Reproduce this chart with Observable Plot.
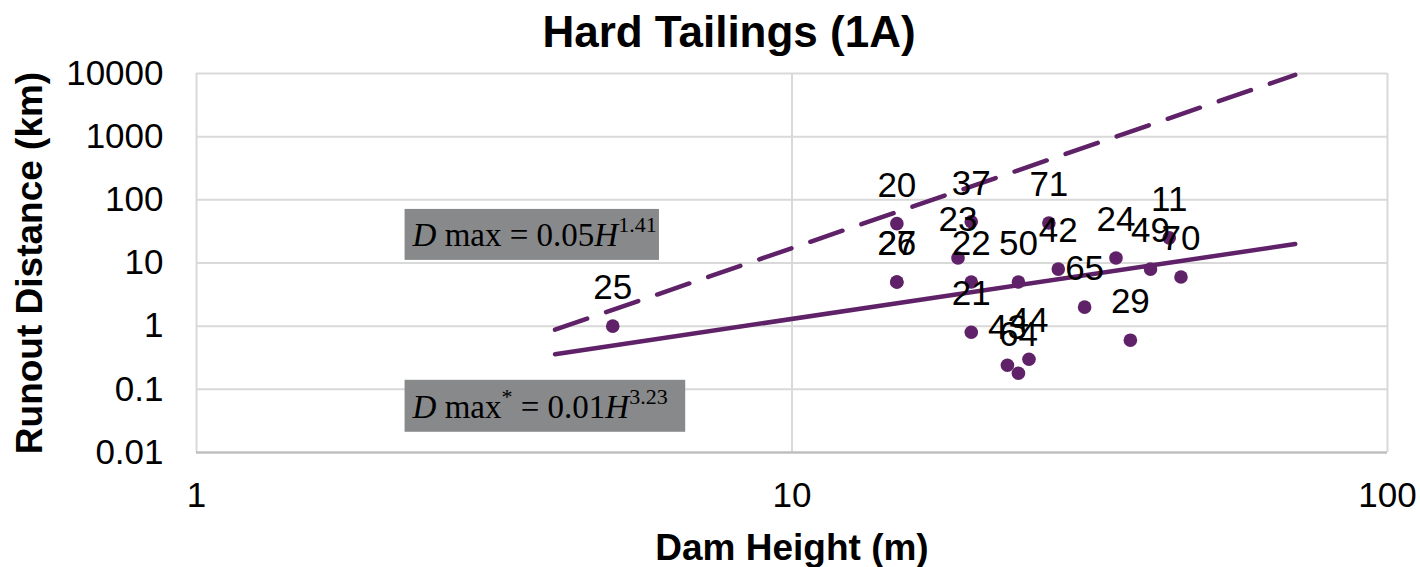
<!DOCTYPE html>
<html>
<head>
<meta charset="utf-8">
<script src="https://cdn.jsdelivr.net/npm/d3@7"></script>
<script src="https://cdn.jsdelivr.net/npm/@observablehq/plot@0.6"></script>
<style>
  html, body { margin: 0; padding: 0; background: #fff; }
  #chart svg { display: block; }
</style>
</head>
<body>
<div id="chart"></div>
<script>
// ---- data ----
const pointLabels = ["25","20","26","27","37","23","22","21","50","42","71","65","24","49","11","70","29","44","43","64"];
const damHeight   = [5, 15, 15, 15, 20, 19, 20, 20, 24, 28, 27, 31, 35, 40, 43, 45, 37, 25, 23, 24];
const runout      = [1, 42, 5, 5, 45, 12, 5, 0.8, 5, 8, 43, 2, 12, 8, 25, 6, 0.6, 0.3, 0.24, 0.18];

// envelope lines (end points)
const lineH      = [4, 70];
const solidD     = [0.36, 20];
const dashedD    = [0.88, 9500];

// annotation boxes (data coordinates)
const boxX1 = [2.24, 2.24];
const boxX2 = [5.99, 6.63];
const boxY1 = [11, 0.0209];
const boxY2 = [70.5, 0.139];

const xTicks = [1, 10, 100];
const yTicks = [0.01, 0.1, 1, 10, 100, 1000, 10000];

const titleText = "Hard Tailings (1A)";
const xTitle = "Dam Height (m)";
const yTitle = "Runout Distance (km)";

// ---- build tables ----
const points = damHeight.map((h, i) => ({h, d: runout[i], label: pointLabels[i]}));
const solid = lineH.map((h, i) => ({h, d: solidD[i]}));
const dashed = lineH.map((h, i) => ({h, d: dashedD[i]}));
const boxes = boxX1.map((x1, i) => ({x1, x2: boxX2[i], y1: boxY1[i], y2: boxY2[i]}));

const purple = "#5f2167";
const sans = "'Liberation Sans', Arial, sans-serif";

const chart = Plot.plot({
  width: 1420,
  height: 567,
  marginLeft: 196,
  marginRight: 33,
  marginTop: 73,
  marginBottom: 115,
  style: {fontFamily: sans, fontSize: "35px", color: "#000", background: "#fff"},
  x: {type: "log", domain: [1, 100]},
  y: {type: "log", domain: [0.01, 10000]},
  marks: [
    Plot.ruleY(yTicks.slice(1), {stroke: "#d9d9d9", strokeWidth: 2}),
    Plot.ruleX(xTicks, {stroke: "#d9d9d9", strokeWidth: 2}),
    Plot.ruleY([0.01], {stroke: "#bfbfbf", strokeWidth: 2.5}),
    Plot.axisX({ticks: xTicks, tickFormat: d => String(d), tickSize: 0, tickPadding: 30, fontSize: 35, label: null}),
    Plot.axisY({ticks: yTicks, tickFormat: d => String(d), tickSize: 0, tickPadding: 33, fontSize: 35, label: null}),
    Plot.rect(boxes, {x1: "x1", x2: "x2", y1: "y1", y2: "y2", fill: "#88898b"}),
    Plot.line(solid, {x: "h", y: "d", stroke: purple, strokeWidth: 4.5, strokeLinecap: "round"}),
    Plot.line(dashed, {x: "h", y: "d", stroke: purple, strokeWidth: 4.5, strokeLinecap: "round", strokeDasharray: "34,20"}),
    Plot.dot(points, {x: "h", y: "d", r: 6.8, fill: purple, stroke: "none"}),
    Plot.text(points, {x: "h", y: "d", text: "label", dy: -38, fontSize: 35, fill: "#000"}),
    Plot.text([titleText], {frameAnchor: "top", lineAnchor: "middle", dx: -63, dy: -41, fontSize: 44, fontWeight: "bold", fill: "#000"}),
    Plot.text([xTitle], {frameAnchor: "bottom", lineAnchor: "middle", dy: 96, fontSize: 37, fontWeight: "bold", fill: "#000"}),
    Plot.text([yTitle], {frameAnchor: "left", textAnchor: "middle", lineAnchor: "middle", dx: -166, rotate: -90, fontSize: 37, fontWeight: "bold", fill: "#000"})
  ]
});

document.getElementById("chart").appendChild(chart);

// rich-text formulas inside the boxes, positioned via the chart's scales
const sx = chart.scale("x"), sy = chart.scale("y");
const svg = d3.select(chart);
const g = svg.append("g")
  .attr("font-family", "'Liberation Serif', 'Times New Roman', serif")
  .attr("text-anchor", "start")
  .attr("fill", "#000");

function formula(box, parts) {
  const t = g.append("text")
    .attr("x", sx.apply(box.x1) + 8)
    .attr("y", (sy.apply(box.y1) + sy.apply(box.y2)) / 2 + 12)
    .attr("font-size", 33);
  for (const p of parts) {
    const s = t.append("tspan").text(p.t);
    if (p.i) s.attr("font-style", "italic");
    if (p.sup) s.attr("font-size", 22);
    if (p.dy) s.attr("dy", p.dy);
  }
}
formula(boxes[0], [
  {t: "D", i: true}, {t: " max = 0.05"}, {t: "H", i: true}, {t: "1.41", sup: true, dy: -14}
]);
formula(boxes[1], [
  {t: "D", i: true}, {t: " max"}, {t: "*", sup: true, dy: -14}, {t: " = 0.01", dy: 14}, {t: "H", i: true}, {t: "3.23", sup: true, dy: -14}
]);
</script>
</body>
</html>
